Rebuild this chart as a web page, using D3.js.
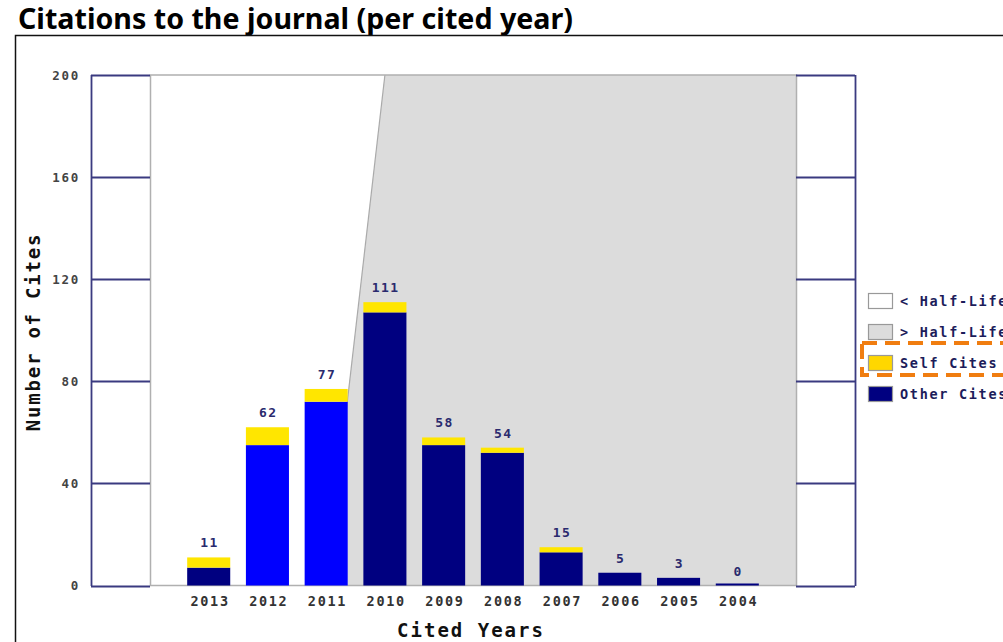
<!DOCTYPE html>
<html>
<head>
<meta charset="utf-8">
<script src="https://cdn.jsdelivr.net/npm/d3@7"></script>
<style>
  body { margin: 0; background: #fff; }
  svg { display: block; }
</style>
</head>
<body>
<div id="chart"></div>
<script>
// JCR style "citations per cited year" chart
const years = ["2013", "2012", "2011", "2010", "2009", "2008", "2007", "2006", "2005", "2004"];
const otherCites = [7, 55, 72, 107, 55, 52, 13, 5, 3, 0];
const selfCites = [4, 7, 5, 4, 3, 2, 2, 0, 0, 0];
const impactYears = ["2012", "2011"];      // bars drawn in bright blue
const halfLifeEdge = ["2011", "2010"];     // grey zone edge runs from first (at 0) to second (at top)
const yTicks = [0, 40, 80, 120, 160, 200];
const legendLabels = ["< Half-Life", "> Half-Life", "Self Cites", "Other Cites"];

const W = 1003, H = 642;
const mono = "'DejaVu Sans Mono', monospace";
const navy = "#000080", blue = "#0000ff", yellow = "#ffe600", grey = "#dcdcdc";

const svg = d3.select("#chart")
  .append("svg")
  .attr("width", W)
  .attr("height", H);

const x = d3.scaleBand()
  .domain(years)
  .range([150, 796])
  .paddingInner(0.267)
  .paddingOuter(0.633);

const y = d3.scaleLinear()
  .domain([0, 200])
  .range([585.5, 75]);

// title, sized to the reference width
const title = svg.append("text")
  .attr("x", 18)
  .attr("y", 29)
  .text("Citations to the journal (per cited year)")
  .style("font-family", "'Noto Sans', 'DejaVu Sans', sans-serif")
  .style("font-weight", "bold")
  .style("font-size", "22px")
  .attr("fill", "#000");
const tw = title.node().getComputedTextLength();
title.style("font-size", (22 * 555 / tw) + "px");

// outer frame
svg.append("path")
  .attr("d", `M15.5,${H}V35.5H${W}`)
  .attr("fill", "none")
  .attr("stroke", "#111")
  .attr("stroke-width", 1.5);

// grey "> half-life" zone
const edgeLo = x(halfLifeEdge[0]) + x.bandwidth() / 2;
const edgeHi = x(halfLifeEdge[1]) + x.bandwidth() / 2;
svg.append("path")
  .attr("d", `M${edgeLo},${y(0)}L${edgeHi},${y(200)}L796,${y(200)}L796,${y(0)}Z`)
  .attr("fill", grey);
svg.append("line")
  .attr("x1", edgeLo).attr("y1", y(0))
  .attr("x2", edgeHi).attr("y2", y(200))
  .attr("stroke", "#aaa")
  .attr("stroke-width", 1.2);

// inner plot frame (grey)
svg.append("path")
  .attr("d", `M150.5,${y(0)}V${y(200)}H796.5V${y(0)}Z`)
  .attr("fill", "none")
  .attr("stroke", "#b0b0b0")
  .attr("stroke-width", 1.5);

// side panels with navy grid
[[91, 150], [796, 855]].forEach(([a, b]) => {
  svg.selectAll(null)
    .data(yTicks)
    .enter()
    .append("line")
    .attr("x1", a).attr("x2", b)
    .attr("y1", d => Math.round(y(d)) + 0.5)
    .attr("y2", d => Math.round(y(d)) + 0.5)
    .attr("stroke", "#3a3a80")
    .attr("stroke-width", 1.8);
});
svg.append("line")
  .attr("x1", 91.5).attr("x2", 91.5)
  .attr("y1", y(200)).attr("y2", y(0) + 0.5)
  .attr("stroke", "#3a3a80").attr("stroke-width", 1.8);
svg.append("line")
  .attr("x1", 855.5).attr("x2", 855.5)
  .attr("y1", y(200)).attr("y2", y(0) + 0.5)
  .attr("stroke", "#3a3a80").attr("stroke-width", 1.8);

// y axis labels
const yAxis = svg.append("g")
  .attr("transform", "translate(91,0)")
  .call(d3.axisLeft(y).tickValues(yTicks).tickSize(0).tickPadding(11));
yAxis.select(".domain").remove();
yAxis.selectAll("text")
  .style("font-family", mono)
  .style("font-weight", "bold")
  .style("font-size", "12.5px")
  .style("letter-spacing", "1.7px")
  .attr("fill", "#444");

// x axis labels
const xAxis = svg.append("g")
  .attr("transform", `translate(0,${y(0)})`)
  .call(d3.axisBottom(x).tickSize(0).tickPadding(11));
xAxis.select(".domain").remove();
xAxis.selectAll("text")
  .attr("dx", "0.1em")
  .style("font-family", mono)
  .style("font-weight", "bold")
  .style("font-size", "13.5px")
  .style("letter-spacing", "1.7px")
  .attr("fill", "#333");

// stacked bars
const rows = years.map((yr, i) => ({year: yr, other: otherCites[i], self: selfCites[i]}));

svg.selectAll(".other")
  .data(rows)
  .enter()
  .append("rect")
  .attr("class", "other")
  .attr("x", d => x(d.year))
  .attr("width", x.bandwidth())
  .attr("y", d => Math.min(y(d.other), y(0) - 2))
  .attr("height", d => Math.max(y(0) - y(d.other), 2))
  .attr("fill", d => impactYears.includes(d.year) ? blue : navy);

svg.selectAll(".self")
  .data(rows.filter(d => d.self > 0))
  .enter()
  .append("rect")
  .attr("class", "self")
  .attr("x", d => x(d.year))
  .attr("width", x.bandwidth())
  .attr("y", d => y(d.other + d.self))
  .attr("height", d => y(d.other) - y(d.other + d.self))
  .attr("fill", yellow);

svg.selectAll(".value")
  .data(rows)
  .enter()
  .append("text")
  .attr("class", "value")
  .attr("x", d => x(d.year) + x.bandwidth() / 2 + 0.8)
  .attr("y", d => y(d.other + d.self) - 10)
  .attr("text-anchor", "middle")
  .text(d => d.other + d.self)
  .style("font-family", mono)
  .style("font-weight", "bold")
  .style("font-size", "13px")
  .style("letter-spacing", "1.4px")
  .attr("fill", "#2a2a6e");

// axis titles
svg.append("text")
  .attr("transform", "translate(40,332) rotate(-90)")
  .attr("text-anchor", "middle")
  .text("Number of Cites")
  .style("font-family", mono)
  .style("font-weight", "bold")
  .style("font-size", "19px")
  .style("letter-spacing", "1.8px")
  .attr("fill", "#111");

svg.append("text")
  .attr("x", 471)
  .attr("y", 637)
  .attr("text-anchor", "middle")
  .text("Cited Years")
  .style("font-family", mono)
  .style("font-weight", "bold")
  .style("font-size", "19px")
  .style("letter-spacing", "2px")
  .attr("fill", "#111");

// legend
const legendFill = ["#ffffff", grey, "#ffd700", navy];
const legend = svg.append("g")
  .attr("transform", "translate(868,293)");

legend.selectAll("rect")
  .data(legendLabels)
  .enter()
  .append("rect")
  .attr("x", 0.5)
  .attr("y", (d, i) => i * 31 + 0.5)
  .attr("width", 24)
  .attr("height", 15)
  .attr("fill", (d, i) => legendFill[i])
  .attr("stroke", "#999")
  .attr("stroke-width", 1.2);

legend.selectAll("text")
  .data(legendLabels)
  .enter()
  .append("text")
  .attr("x", 32)
  .attr("y", (d, i) => i * 31 + 13)
  .text(d => d)
  .style("font-family", mono)
  .style("font-weight", "bold")
  .style("font-size", "13.5px")
  .style("letter-spacing", "1.7px")
  .attr("fill", "#1c1c5a");

// orange dashed highlight round "Self Cites"
svg.append("rect")
  .attr("x", 862)
  .attr("y", 343)
  .attr("width", 160)
  .attr("height", 32)
  .attr("fill", "none")
  .attr("stroke", "#f07d10")
  .attr("stroke-width", 4)
  .attr("stroke-dasharray", "15,8");
</script>
</body>
</html>
